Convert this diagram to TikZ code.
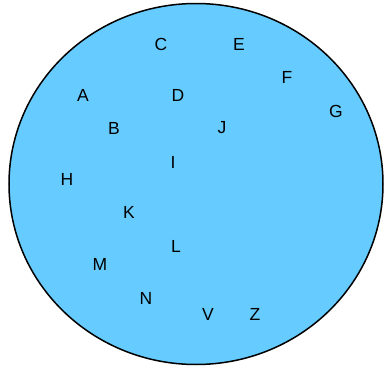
\documentclass[tikz,border=0pt]{standalone}
\usepackage{fontspec}
\setmainfont{Liberation Sans}
\usepackage{tikz}
\usepackage{xcolor}
\usetikzlibrary{positioning}
\definecolor{setblue}{HTML}{66CCFF}

\begin{document}
\begin{tikzpicture}[x=1pt, y=-1pt, line width=1.5pt]
            \useasboundingbox (0,0) rectangle (384,367);
            \draw[fill=setblue] (196,184) ellipse [x radius=187, y radius=180.5];
            \foreach \lbl/\x/\y in {C/161/44, E/239/44, F/287/77, A/83/95, D/178/95,
                G/336/111, B/114/128, J/222/128, I/173/162, H/67/179, K/129/212,
                L/176/246, M/100/264, N/146/298, V/208/314, Z/255/314} {
                \node[font=\fontsize{17.5}{20}\selectfont] (\lbl) at (\x,\y) {\lbl};
            }
        \end{tikzpicture}
\end{document}
